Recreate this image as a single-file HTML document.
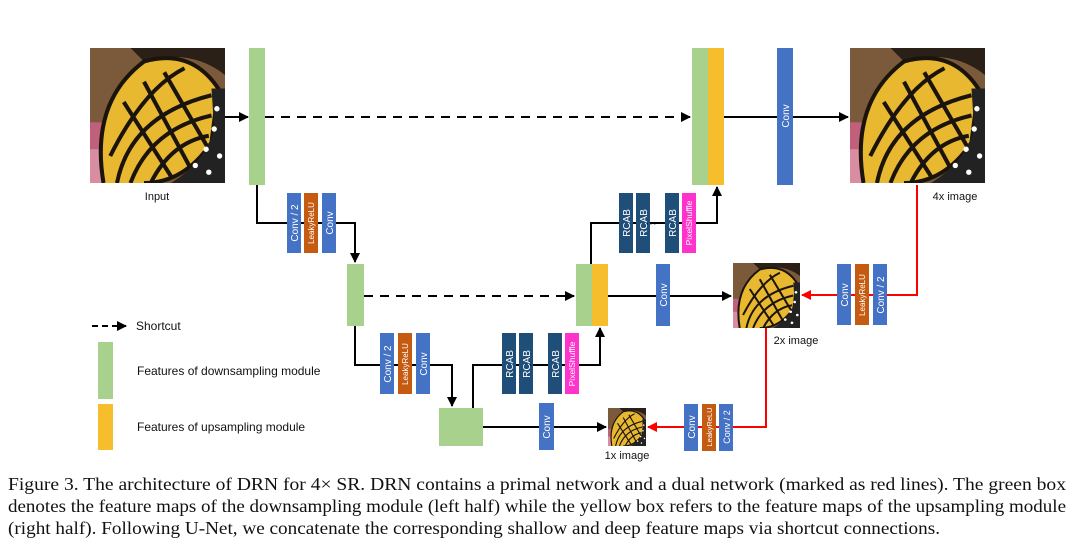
<!DOCTYPE html>
<html><head><meta charset="utf-8"><style>
html,body{margin:0;padding:0;background:#fff;}
svg{display:block}
.s{font-family:"Liberation Sans","DejaVu Sans",sans-serif;}
.bl{font-family:"Liberation Sans",sans-serif;font-size:10px;fill:#fff;}
.cap{font-family:"Liberation Serif",serif;font-size:17.5px;fill:#111;}
</style></head><body>
<svg width="1080" height="556" viewBox="0 0 1080 556" xmlns="http://www.w3.org/2000/svg">
<defs>
<marker id="ak" markerWidth="10" markerHeight="10" refX="9" refY="5" orient="auto" markerUnits="userSpaceOnUse"><path d="M0,0 L10,5 L0,10 z" fill="#000"/></marker>
<marker id="ar" markerWidth="10" markerHeight="10" refX="9" refY="5" orient="auto" markerUnits="userSpaceOnUse"><path d="M0,0 L10,5 L0,10 z" fill="#f00"/></marker>
<symbol id="bf" viewBox="0 0 100 100" preserveAspectRatio="none">
<rect width="100" height="100" fill="#7a5a3a"/>
<rect x="0" y="55" width="45" height="45" fill="#c0607a"/>
<rect x="0" y="75" width="30" height="25" fill="#d88ea0"/>
<path d="M10,100 Q0,40 40,10 Q75,0 95,30 L90,70 Q70,100 40,100 z" fill="#e8b830"/>
<path d="M40,10 Q75,0 100,20 L100,0 L30,0 z" fill="#2a2018"/>
<g stroke="#1a140c" stroke-width="3" fill="none">
<path d="M10,100 Q0,40 40,10 Q75,0 95,30 L90,70 Q70,100 40,100"/>
<path d="M20,100 Q30,50 90,35"/><path d="M30,100 Q45,60 90,50"/>
<path d="M45,100 Q60,70 88,65"/><path d="M15,80 Q40,30 70,15"/>
<path d="M25,40 L60,95"/><path d="M40,25 L75,90"/><path d="M55,18 L88,75"/>
</g>
<path d="M90,30 L100,30 L100,100 L60,100 Q85,85 92,60z" fill="#222"/>
<g fill="#fff"><circle cx="94" cy="45" r="2"/><circle cx="92" cy="60" r="2"/><circle cx="86" cy="75" r="2"/><circle cx="78" cy="87" r="2"/><circle cx="96" cy="80" r="2"/><circle cx="88" cy="92" r="2"/></g>
</symbol>
</defs>

<!-- images -->
<use href="#bf" x="90" y="48" width="135" height="135"/>
<use href="#bf" x="850" y="48" width="135" height="135"/>
<use href="#bf" x="733" y="263" width="67" height="65"/>
<use href="#bf" x="608" y="408" width="38" height="38"/>
<g class="s" font-size="11" fill="#111">
<text x="157" y="200" text-anchor="middle">Input</text>
<text x="955" y="200" text-anchor="middle">4x image</text>
<text x="796" y="344" text-anchor="middle">2x image</text>
<text x="627" y="459" text-anchor="middle">1x image</text>
</g>

<!-- black lines -->
<g stroke="#000" stroke-width="2" fill="none">
<line x1="225" y1="117" x2="248" y2="117" marker-end="url(#ak)"/>
<line x1="265" y1="117" x2="690" y2="117" stroke-dasharray="9,7" marker-end="url(#ak)"/>
<line x1="724" y1="117" x2="848" y2="117" marker-end="url(#ak)"/>
<polyline points="257,185 257,223 355,223 355,262" marker-end="url(#ak)"/>
<line x1="364" y1="296" x2="574" y2="296" stroke-dasharray="9,7" marker-end="url(#ak)"/>
<line x1="608" y1="296" x2="731" y2="296" marker-end="url(#ak)"/>
<polyline points="591,264 591,223 717,223 717,187" marker-end="url(#ak)"/>
<polyline points="355,326 355,365 452,365 452,406" marker-end="url(#ak)"/>
<polyline points="473,408 473,365 600,365 600,328" marker-end="url(#ak)"/>
<line x1="483" y1="427" x2="606" y2="427" marker-end="url(#ak)"/>
</g>
<!-- red lines -->
<g stroke="#f00" stroke-width="2" fill="none">
<polyline points="917,185 917,295 802,295" marker-end="url(#ar)"/>
<polyline points="766,328 766,427 648,427" marker-end="url(#ar)"/>
</g>

<!-- features -->
<g fill="#a9d18e">
<rect x="249" y="48" width="16" height="137"/>
<rect x="692" y="48" width="16" height="137"/>
<rect x="347" y="264" width="17" height="62"/>
<rect x="576" y="264" width="16" height="62"/>
<rect x="439" y="408" width="44" height="38"/>
</g>
<g fill="#f6be2c">
<rect x="708" y="48" width="16" height="137"/>
<rect x="592" y="264" width="16" height="62"/>
</g>

<!-- blocks -->
<g class="bl">
<rect x="777" y="48" width="16" height="137" fill="#4472c4"/>
<text transform="translate(789,116) rotate(-90)" text-anchor="middle">Conv</text>

<rect x="287" y="193" width="14" height="60" fill="#4472c4"/><text transform="translate(298,223) rotate(-90)" text-anchor="middle">Conv / 2</text>
<rect x="304" y="193" width="14" height="60" fill="#c55a11"/><text transform="translate(314,223) rotate(-90)" text-anchor="middle" font-size="8">LeakyReLU</text>
<rect x="322" y="193" width="14" height="60" fill="#4472c4"/><text transform="translate(333,223) rotate(-90)" text-anchor="middle">Conv</text>

<rect x="380" y="333" width="14" height="61" fill="#4472c4"/><text transform="translate(391,364) rotate(-90)" text-anchor="middle">Conv / 2</text>
<rect x="398" y="333" width="14" height="61" fill="#c55a11"/><text transform="translate(408,364) rotate(-90)" text-anchor="middle" font-size="8">LeakyReLU</text>
<rect x="416" y="333" width="14" height="61" fill="#4472c4"/><text transform="translate(427,364) rotate(-90)" text-anchor="middle">Conv</text>

<rect x="619" y="193" width="14" height="60" fill="#1f4e79"/><text transform="translate(630,223) rotate(-90)" text-anchor="middle">RCAB</text>
<rect x="636" y="193" width="14" height="60" fill="#1f4e79"/><text transform="translate(647,223) rotate(-90)" text-anchor="middle">RCAB</text>
<rect x="665" y="193" width="14" height="60" fill="#1f4e79"/><text transform="translate(676,223) rotate(-90)" text-anchor="middle">RCAB</text>
<rect x="682" y="193" width="14" height="60" fill="#ff33cc"/><text transform="translate(692,223) rotate(-90)" text-anchor="middle" font-size="8.5">PixelShuffle</text>

<rect x="502" y="333" width="14" height="61" fill="#1f4e79"/><text transform="translate(513,364) rotate(-90)" text-anchor="middle">RCAB</text>
<rect x="519" y="333" width="14" height="61" fill="#1f4e79"/><text transform="translate(530,364) rotate(-90)" text-anchor="middle">RCAB</text>
<rect x="548" y="333" width="14" height="61" fill="#1f4e79"/><text transform="translate(559,364) rotate(-90)" text-anchor="middle">RCAB</text>
<rect x="565" y="333" width="14" height="61" fill="#ff33cc"/><text transform="translate(575,364) rotate(-90)" text-anchor="middle" font-size="8.5">PixelShuffle</text>

<rect x="656" y="264" width="14" height="62" fill="#4472c4"/><text transform="translate(667,295) rotate(-90)" text-anchor="middle">Conv</text>
<rect x="539" y="403" width="15" height="47" fill="#4472c4"/><text transform="translate(550,427) rotate(-90)" text-anchor="middle">Conv</text>

<rect x="837" y="264" width="14" height="61" fill="#4472c4"/><text transform="translate(848,295) rotate(-90)" text-anchor="middle">Conv</text>
<rect x="855" y="264" width="14" height="61" fill="#c55a11"/><text transform="translate(865,295) rotate(-90)" text-anchor="middle" font-size="8">LeakyReLU</text>
<rect x="873" y="264" width="14" height="61" fill="#4472c4"/><text transform="translate(884,295) rotate(-90)" text-anchor="middle">Conv / 2</text>

<rect x="684" y="404" width="14" height="47" fill="#4472c4"/><text transform="translate(695,427) rotate(-90)" text-anchor="middle">Conv</text>
<rect x="702" y="404" width="14" height="47" fill="#c55a11"/><text transform="translate(712,427) rotate(-90)" text-anchor="middle" font-size="7.5">LeakyReLU</text>
<rect x="719" y="404" width="14" height="47" fill="#4472c4"/><text transform="translate(730,427) rotate(-90)" text-anchor="middle" font-size="9">Conv / 2</text>
</g>
<g class="s" font-size="11" fill="#000">
<text x="651" y="227" text-anchor="middle">···</text>
<text x="534" y="368" text-anchor="middle">···</text>
</g>

<!-- legend -->
<line x1="92" y1="326" x2="126" y2="326" stroke="#000" stroke-width="2" stroke-dasharray="6,4" marker-end="url(#ak)"/>
<rect x="98" y="342" width="15" height="57" fill="#a9d18e"/>
<rect x="98" y="404" width="15" height="46" fill="#f6be2c"/>
<g class="s" font-size="12" fill="#111">
<text x="136" y="330">Shortcut</text>
<text x="137" y="375">Features of downsampling module</text>
<text x="137" y="431">Features of upsampling module</text>
</g>

<!-- caption -->
<text class="cap" x="8" y="490" textLength="1058" lengthAdjust="spacingAndGlyphs">Figure 3.  The architecture of DRN for 4× SR. DRN contains a primal network and a dual network (marked as red lines). The green box</text>
<text class="cap" x="8" y="512" textLength="1058" lengthAdjust="spacingAndGlyphs">denotes the feature maps of the downsampling module (left half) while the yellow box refers to the feature maps of the upsampling module</text>
<text class="cap" x="8" y="534" textLength="932" lengthAdjust="spacingAndGlyphs">(right half). Following U-Net, we concatenate the corresponding shallow and deep feature maps via shortcut connections.</text>
</svg>
</body></html>
